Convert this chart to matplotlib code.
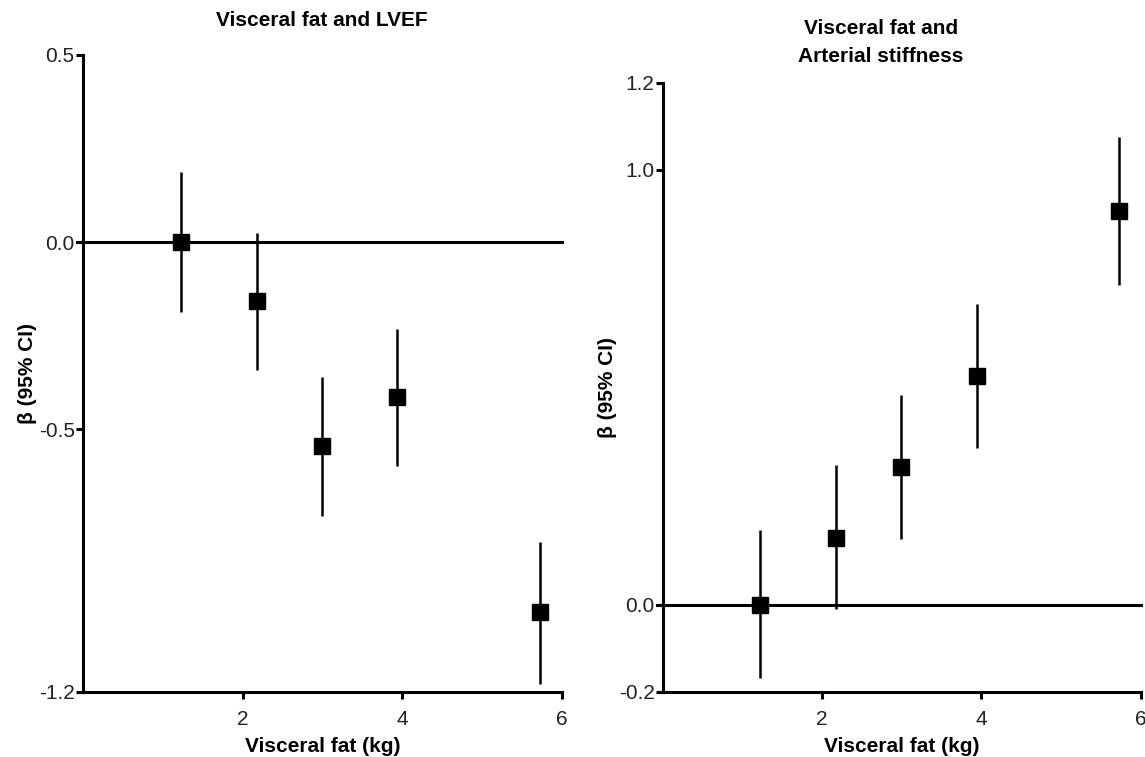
import matplotlib
matplotlib.use("Agg")
import matplotlib.pyplot as plt

plt.rcParams['font.family'] = ['Liberation Sans', 'DejaVu Sans']

# Left panel: Visceral fat and LVEF
lvef_x = [1.23, 2.18, 3.00, 3.93, 5.73]
lvef_beta = [0.0, -0.158, -0.545, -0.414, -0.989]
lvef_lo = [-0.187, -0.342, -0.730, -0.599, -1.179]
lvef_hi = [0.187, 0.024, -0.361, -0.233, -0.802]
lvef_yticks = [0.5, 0.0, -0.5, -1.2]
lvef_yticklabels = ["0.5", "0.0", "-0.5", "-1.2"]

# Right panel: Visceral fat and Arterial stiffness
stiff_x = [1.22, 2.17, 2.99, 3.94, 5.73]
stiff_beta = [0.0, 0.154, 0.317, 0.526, 0.906]
stiff_lo = [-0.168, -0.011, 0.152, 0.361, 0.736]
stiff_hi = [0.172, 0.320, 0.483, 0.692, 1.076]
stiff_yticks = [1.2, 1.0, 0.0, -0.2]
stiff_yticklabels = ["1.2", "1.0", "0.0", "-0.2"]

xticks = [2, 4, 6]
xticklabels = ["2", "4", "6"]

W, H = 1145, 757
fig = plt.figure(figsize=(W / 100, H / 100), dpi=100)


def px_axes(x0, x1, y_top, y_bot):
    return fig.add_axes([x0 / W, 1 - y_bot / H, (x1 - x0) / W, (y_bot - y_top) / H])


def draw(ax, x, b, lo, hi, ylim, yticks, yticklabels):
    ax.axhline(0, color='black', lw=2.2, zorder=1, xmin=-0.012, clip_on=False)
    for xi, l, h in zip(x, lo, hi):
        ax.plot([xi, xi], [l, h], color='black', lw=1.8, zorder=2, solid_capstyle='butt')
    ax.plot(x, b, linestyle='none', marker='s', markersize=12, color='black', zorder=3)
    ax.set_xlim(0, 6)
    ax.set_ylim(*ylim)
    ax.set_xticks(xticks)
    ax.set_xticklabels(xticklabels)
    ax.set_yticks(yticks)
    ax.set_yticklabels(yticklabels)
    for s in ['top', 'right']:
        ax.spines[s].set_visible(False)
    for s in ['left', 'bottom']:
        ax.spines[s].set_linewidth(2.2)
    ax.tick_params(axis='both', direction='out', length=5, width=2.2, labelsize=15,
                   colors='black', labelcolor='#222222')
    ax.tick_params(axis='y', pad=1)
    ax.tick_params(axis='x', pad=8)
    ax.set_xlabel("Visceral fat (kg)", fontsize=15, fontweight='bold', labelpad=6)
    ax.set_ylabel("β (95% CI)", fontsize=15, fontweight='bold', labelpad=1)


ax1 = px_axes(83, 561.7, 55, 691.5)
draw(ax1, lvef_x, lvef_beta, lvef_lo, lvef_hi, (-1.2, 0.5), lvef_yticks, lvef_yticklabels)
ax2 = px_axes(663, 1140.7, 83, 691.5)
draw(ax2, stiff_x, stiff_beta, stiff_lo, stiff_hi, (-0.2, 1.2), stiff_yticks, stiff_yticklabels)

fig.text(322 / W, 1 - 20 / H, "Visceral fat and LVEF", ha='center', va='center',
         fontsize=15, fontweight='bold')
fig.text(881 / W, 1 - 28 / H, "Visceral fat and", ha='center', va='center',
         fontsize=15, fontweight='bold')
fig.text(881 / W, 1 - 57 / H, "Arterial stiffness", ha='center', va='center',
         fontsize=15, fontweight='bold')

fig.savefig("out.png", dpi=100)
